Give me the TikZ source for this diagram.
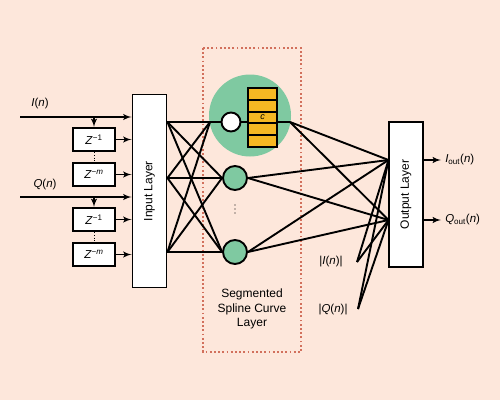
\documentclass[tikz,border=0pt]{standalone}
\usepackage{fontspec}
\setmainfont{Liberation Sans}
\usetikzlibrary{arrows,positioning}

\definecolor{bgpeach}{HTML}{FDE7DB}
\definecolor{splinegreen}{HTML}{7FC9A1}
\definecolor{coefyellow}{HTML}{F6B823}
\definecolor{framered}{HTML}{D2705C}

\begin{document}
\begin{tikzpicture}[x=1pt,y=-1pt,>=latex',line width=1.9pt,font=\fontsize{11.5}{13}\selectfont]
          \tikzstyle{layer}=[draw,fill=white,minimum width=34pt,inner sep=0pt]
          \tikzstyle{delay}=[draw,fill=white,minimum width=42pt,minimum height=23pt,inner sep=0pt]
          \tikzstyle{neuron}=[circle,draw,fill=splinegreen,minimum size=24pt,inner sep=0pt]
          \tikzstyle{stripe}=[draw,fill=coefyellow,minimum width=29pt,minimum height=11.8pt,inner sep=0pt]
          \tikzstyle{wire}=[-]
          \tikzstyle{feed}=[->]

          \fill[bgpeach] (0,0) rectangle (500,400);
          \useasboundingbox (0,0) rectangle (500,400);

          % spline layer frame
          \draw[framered,line width=1.6pt,dash pattern=on 1.8pt off 2.4pt] (203,48) rectangle (301,352);
          \node[align=center,font=\fontsize{12}{14.3}\selectfont] (sl) at (252,309) {Segmented\\Spline Curve\\Layer};
          \fill[splinegreen] (250,115.5) circle (41);

          % layers
          \node[layer,minimum height=193pt] (in)  at (149.5,191) {};
          \node[rotate=90,font=\fontsize{12}{13}\selectfont] at (in) {Input Layer};
          \node[layer,minimum height=145pt] (out) at (406,194.5) {};
          \node[rotate=90,font=\fontsize{12}{13}\selectfont] at (out) {Output Layer};

          % delay taps
          \node[delay] (dI1) at (94,139.5) {\textit{Z}\textsuperscript{−1}};
          \node[delay] (dIm) at (94,174.5) {\textit{Z}\textsuperscript{−\textit{m}}};
          \node[delay] (dQ1) at (94,219.5) {\textit{Z}\textsuperscript{−1}};
          \node[delay] (dQm) at (94,254.5) {\textit{Z}\textsuperscript{−\textit{m}}};

          \coordinate (sI) at (20,117);
          \coordinate (sQ) at (20,197);
          \node (lI) at (40,104) {\textit{I}(\textit{n})};
          \node (lQ) at (45,185) {\textit{Q}(\textit{n})};

          \draw[feed] (sI) -- (in.west |- sI);
          \draw[feed] (sQ) -- (in.west |- sQ);
          \draw[feed] (dI1.north |- sI) -- (dI1.north);
          \draw[feed] (dQ1.north |- sQ) -- (dQ1.north);
          \foreach \d in {dI1,dIm,dQ1,dQm}
            \draw[feed] (\d.east) -- (in.west |- \d.east);
          \draw[wire,line width=0.8pt,dotted] (dI1.south) -- (dIm.north);
          \draw[wire,line width=0.8pt,dotted] (dQ1.south) -- (dQm.north);

          % spline neurons
          \node[circle,draw,fill=white,minimum size=19pt,inner sep=0pt] (h1) at (231,122) {};
          \node[neuron] (h2) at (235,178) {};
          \node[neuron] (h3) at (235,252) {};
          \foreach \y in {205,209,213}
            \fill (235,\y) circle (0.7);
          \foreach \k in {0,...,4}
            \node[stripe] (c\k) at (262.5,93.9+\k*11.8) {};
          \node[font=\fontsize{9}{10}\selectfont\itshape] at (c2) {c};

          \coordinate (f1) at (210,122);
          \coordinate (f2) at (290,122);
          \coordinate (i1) at (in.east |- f1);
          \coordinate (i2) at (in.east |- h2);
          \coordinate (i3) at (in.east |- h3);

          \foreach \s in {i1,i2,i3}
            \foreach \t in {f1,h2.west,h3.west}
              \draw[wire] (\s) -- (\t);
          \draw[wire] (f1) -- (h1.west);
          \draw[wire] (h1.east) -- (c2.west |- h1);
          \draw[wire] (c2.east |- h1) -- (f2);

          % output side
          \coordinate (o1) at (388.5,160);
          \coordinate (o2) at (388.5,220);
          \coordinate (a1) at (357,262);
          \coordinate (a2) at (358,309);
          \node (lA1) at (331,262) {|\textit{I}(\textit{n})|};
          \node (lA2) at (333,310) {|\textit{Q}(\textit{n})|};

          \foreach \s in {f2,h2.east,h3.east,a1,a2}
            \foreach \t in {o1,o2}
              \draw[wire] (\s) -- (\t);

          \node[anchor=west] (yI) at (441,160) {\textit{I}\textsubscript{out}(\textit{n})};
          \node[anchor=west] (yQ) at (441,220) {\textit{Q}\textsubscript{out}(\textit{n})};
          \draw[feed] (out.east |- yI) -- (yI.west);
          \draw[feed] (out.east |- yQ) -- (yQ.west);
\end{tikzpicture}
\end{document}
